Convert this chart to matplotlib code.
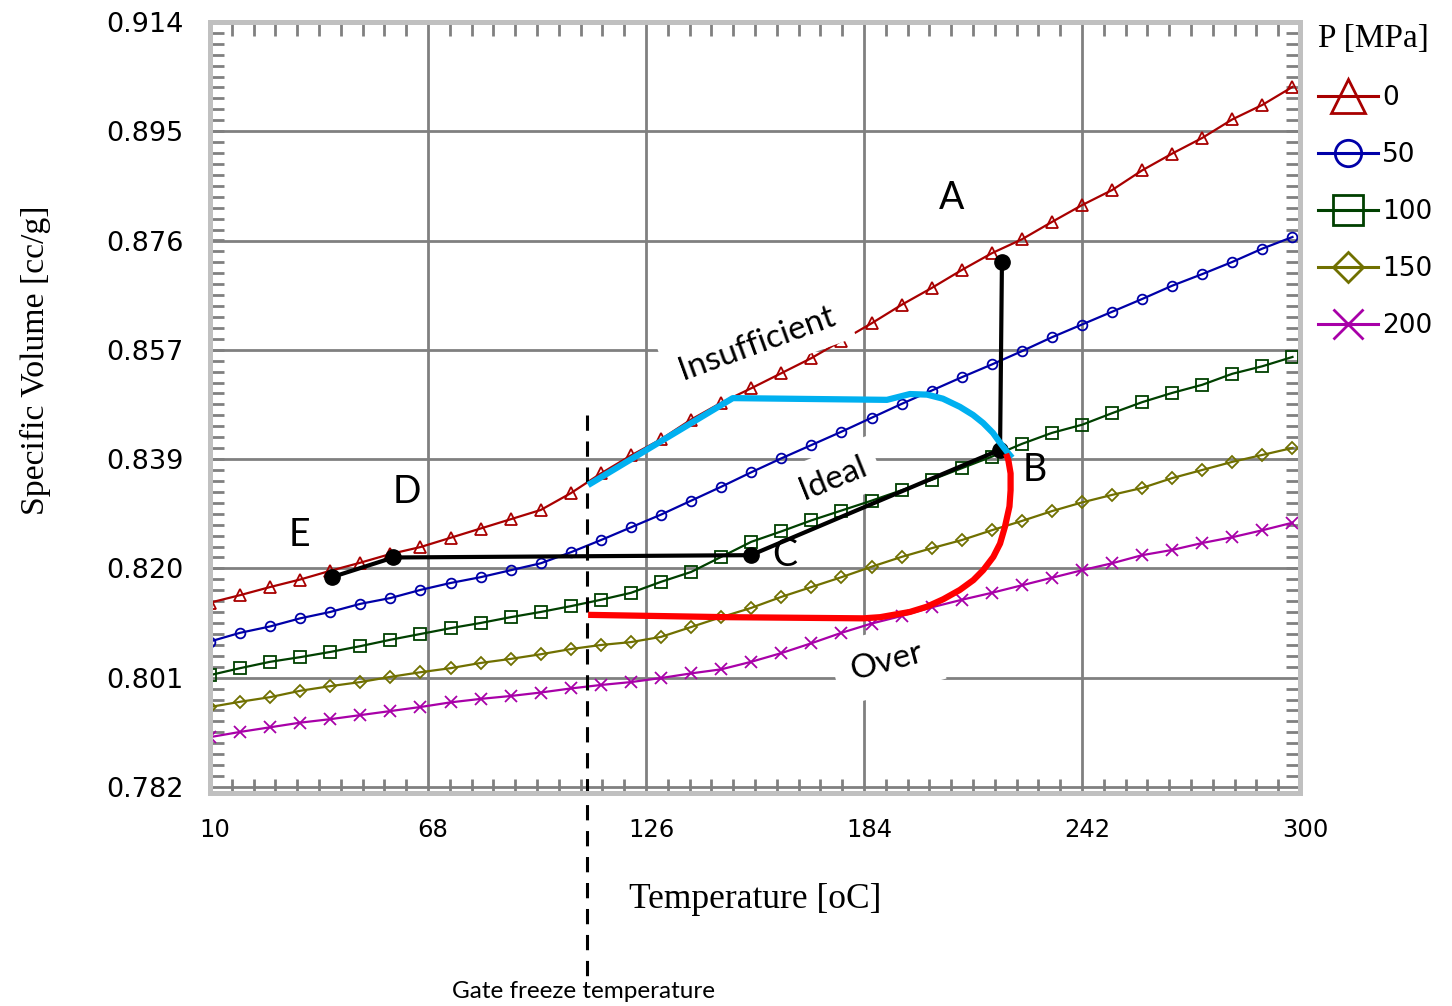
import matplotlib
matplotlib.use("Agg")
import matplotlib.pyplot as plt
from matplotlib.lines import Line2D
from matplotlib.ticker import AutoMinorLocator, FixedLocator, FixedFormatter
import matplotlib.transforms as mtransforms

# ---------------- data ----------------
temperature = [10, 18, 26, 34, 42, 50, 58, 66, 74, 82, 90, 98, 106, 114, 122, 130,
               138, 146, 154, 162, 170, 178, 186, 194, 202, 210, 218, 226, 234, 242,
               250, 258, 266, 274, 282, 290, 298]

vol_p0 = [0.8138, 0.8151, 0.8165, 0.8178, 0.8193, 0.8207, 0.8222, 0.8234, 0.8250, 0.8266,
          0.8282, 0.8298, 0.8327, 0.8361, 0.8392, 0.8420, 0.8454, 0.8483, 0.8508, 0.8534,
          0.8560, 0.8590, 0.8620, 0.8652, 0.8681, 0.8712, 0.8741, 0.8765, 0.8795, 0.8824,
          0.8850, 0.8884, 0.8913, 0.8940, 0.8972, 0.8997, 0.9028]
vol_p50 = [0.8071, 0.8086, 0.8097, 0.8111, 0.8122, 0.8136, 0.8146, 0.8160, 0.8172, 0.8182,
           0.8194, 0.8206, 0.8225, 0.8246, 0.8268, 0.8290, 0.8314, 0.8338, 0.8363, 0.8387,
           0.8410, 0.8433, 0.8457, 0.8481, 0.8504, 0.8527, 0.8549, 0.8572, 0.8596, 0.8618,
           0.8640, 0.8662, 0.8685, 0.8705, 0.8726, 0.8749, 0.8769]
vol_p100 = [0.8013, 0.8025, 0.8036, 0.8044, 0.8053, 0.8063, 0.8074, 0.8084, 0.8094, 0.8103,
            0.8113, 0.8122, 0.8132, 0.8143, 0.8155, 0.8174, 0.8191, 0.8217, 0.8243, 0.8261,
            0.8280, 0.8297, 0.8314, 0.8332, 0.8350, 0.8370, 0.8390, 0.8412, 0.8431, 0.8445,
            0.8465, 0.8484, 0.8500, 0.8514, 0.8533, 0.8546, 0.8562]
vol_p150 = [0.7958, 0.7967, 0.7975, 0.7986, 0.7994, 0.8001, 0.8010, 0.8018, 0.8025, 0.8034,
            0.8041, 0.8049, 0.8058, 0.8065, 0.8070, 0.8079, 0.8096, 0.8113, 0.8129, 0.8148,
            0.8165, 0.8182, 0.8200, 0.8217, 0.8232, 0.8246, 0.8263, 0.8279, 0.8296, 0.8311,
            0.8324, 0.8336, 0.8353, 0.8367, 0.8381, 0.8393, 0.8405]
vol_p200 = [0.7906, 0.7915, 0.7923, 0.7931, 0.7937, 0.7944, 0.7951, 0.7958, 0.7966, 0.7972,
            0.7977, 0.7983, 0.7990, 0.7996, 0.8001, 0.8008, 0.8016, 0.8023, 0.8036, 0.8051,
            0.8068, 0.8086, 0.8102, 0.8115, 0.8130, 0.8143, 0.8155, 0.8168, 0.8181, 0.8194,
            0.8206, 0.8220, 0.8229, 0.8241, 0.8251, 0.8263, 0.8276]

pressure_labels = ["0", "50", "100", "150", "200"]

# process path E-D-C-B-A
path_T = [42.4, 58.8, 153.9, 220.2, 220.7]
path_V = [0.8182, 0.8216, 0.8220, 0.8402, 0.8726]
path_names = ["E", "D", "C", "B", "A"]

# "Insufficient" boundary (cyan)
insuff_T = [110.6, 149.1, 190.1, 196.2, 200.8, 205.0, 209.5, 213.0, 215.7, 218.3,
            220.2, 222.1, 223.4]
insuff_V = [0.8341, 0.8491, 0.8488, 0.8498, 0.8497, 0.8490, 0.8476, 0.8462, 0.8448,
            0.8431, 0.8414, 0.8398, 0.8388]

# "Over" boundary (red)
over_T = [110.6, 147.5, 183.8, 188.3, 191.8, 196.2, 200.7, 205.1, 209.5, 213.1, 215.7,
          218.4, 220.2, 221.5, 222.7, 223.0, 223.0, 222.4, 221.8]
over_V = [0.8117, 0.8113, 0.8111, 0.8113, 0.8117, 0.8122, 0.8131, 0.8144, 0.8160,
          0.8177, 0.8194, 0.8217, 0.8240, 0.8269, 0.8304, 0.8332, 0.8361, 0.8384, 0.8395]

gate_T = 110.3
gate_V = [0.8462, 0.7490]

x_ticks = [10, 68, 126, 184, 242, 300]
y_ticks = [0.782, 0.80086, 0.81971, 0.83857, 0.85743, 0.87629, 0.89514, 0.914]
y_tick_labels = ["0.782", "0.801", "0.820", "0.839", "0.857", "0.876", "0.895", "0.914"]

# ---------------- figure ----------------
W, H = 1452, 1006
fig = plt.figure(figsize=(W / 100, H / 100), dpi=100)
ax = fig.add_axes([210 / W, 1 - 793 / H, 1090 / W, 771 / H])
ax.set_xlim(10, 300)
ax.set_ylim(0.78096, 0.914)

grid_c = "#808080"
ax.xaxis.set_major_locator(FixedLocator(x_ticks))
ax.yaxis.set_major_locator(FixedLocator(y_ticks))
ax.yaxis.set_major_formatter(FixedFormatter(y_tick_labels))
ax.xaxis.set_minor_locator(AutoMinorLocator(10))
ax.yaxis.set_minor_locator(AutoMinorLocator(10))
ax.grid(True, which="major", color=grid_c, lw=2.0, zorder=0)
ax.set_axisbelow(True)
ax.tick_params(which="major", length=0, colors="black")
ax.tick_params(axis="x", which="major", pad=18, labelsize=17.5)
ax.tick_params(axis="y", which="major", pad=19, labelsize=19.5)
ax.tick_params(which="minor", direction="in", length=10, width=2.0, color=grid_c,
               top=True, right=True, bottom=True, left=True)
for s in ax.spines.values():
    s.set_color("#c0c0c0")
    s.set_linewidth(3.6)
    s.set_zorder(6)

offset = mtransforms.ScaledTranslation(5 / 100, 0, fig.dpi_scale_trans)
for lab in ax.get_xticklabels():
    lab.set_transform(lab.get_transform() + offset)
    lab.set_family("DejaVu Sans")
for lab in ax.get_yticklabels():
    lab.set_family("DejaVu Sans")

series = [
    (vol_p0, "#a80000", "^", 9),
    (vol_p50, "#0000a8", "o", 7),
    (vol_p100, "#004000", "s", 9),
    (vol_p150, "#707000", "D", 6),
    (vol_p200, "#a800a8", "x", 8),
]
legend_ms = [24, 19, 22, 15, 21]
handles = []
for (vals, col, mk, ms), lms in zip(series, legend_ms):
    ax.plot(temperature, vals, color=col, lw=1.6, marker=mk, ms=ms, mfc="none",
            mec=col, mew=1.3, zorder=2)
    handles.append(Line2D([0], [0], color=col, lw=2.2, marker=mk, ms=lms, mfc="none",
                          mec=col, mew=2.0))

leg = ax.legend(handles, pressure_labels, title="P [MPa]", loc="upper left",
                bbox_to_anchor=(1318 / W, 1 - 24 / H), bbox_transform=fig.transFigure,
                frameon=False, borderpad=0, borderaxespad=0, handlelength=2.27,
                handletextpad=0.15, labelspacing=1.17,
                prop={"family": "DejaVu Sans", "size": 19},
                title_fontproperties={"family": "Liberation Serif", "size": 24},
                alignment="left")

# boundaries
ax.plot(insuff_T, insuff_V, color="#00b0f0", lw=4.5, solid_capstyle="butt",
        solid_joinstyle="round", zorder=5)
ax.plot(over_T, over_V, color="#ff0000", lw=4.5, solid_capstyle="butt",
        solid_joinstyle="round", zorder=5)

# process path
ax.plot(path_T, path_V, color="black", lw=3.0, zorder=4, solid_capstyle="butt")
ax.plot(path_T, path_V, ls="none", marker="o", ms=11, color="black", zorder=4)

# gate freeze line
ax.plot([gate_T, gate_T], gate_V, color="black", lw=2.2, ls=(0, (5, 3.5)),
        clip_on=False, zorder=4)

# labels of points
ann_font = "Lato"
letter_pos = {"A": (207.4, 0.8836), "B": (229.5, 0.8367), "C": (163.0, 0.8220),
              "D": (62.4, 0.8329), "E": (33.9, 0.8255)}
for name in path_names:
    tx, ty = letter_pos[name]
    ax.text(tx, ty, name, fontsize=27, family=ann_font, ha="center", va="center", zorder=7)

ax.text(155.5, 0.8586, "Insufficient", fontsize=24, family=ann_font, rotation=20,
        ha="center", va="center", rotation_mode="anchor", zorder=3.5,
        bbox=dict(boxstyle="square,pad=0.4", facecolor="white", edgecolor="none"))
ax.text(175.8, 0.8353, "Ideal", fontsize=24, family=ann_font, rotation=22,
        ha="center", va="center", rotation_mode="anchor", zorder=1.5,
        bbox=dict(boxstyle="square,pad=0.35", facecolor="white", edgecolor="none"))
ax.text(190.0, 0.8036, "Over", fontsize=24, family=ann_font, rotation=15,
        ha="center", va="center", rotation_mode="anchor", zorder=3.5,
        bbox=dict(boxstyle="square,pad=0.5", facecolor="white", edgecolor="none"))

fig.text(584 / W, 1 - 992 / H, "Gate freeze temperature", fontsize=17.5, family=ann_font,
         ha="center", va="center")

ax.set_xlabel("Temperature [oC]", family="Liberation Serif", fontsize=25.5)
ax.xaxis.set_label_coords(0.5, (793 - 900) / 771)
ax.xaxis.label.set_va("center")
ax.set_ylabel("Specific Volume [cc/g]", family="Liberation Serif", fontsize=24.3)
ax.yaxis.set_label_coords((35 - 210) / 1090, (793 - 360) / 771)
ax.yaxis.label.set_va("center")

fig.savefig("out.png", dpi=100)
